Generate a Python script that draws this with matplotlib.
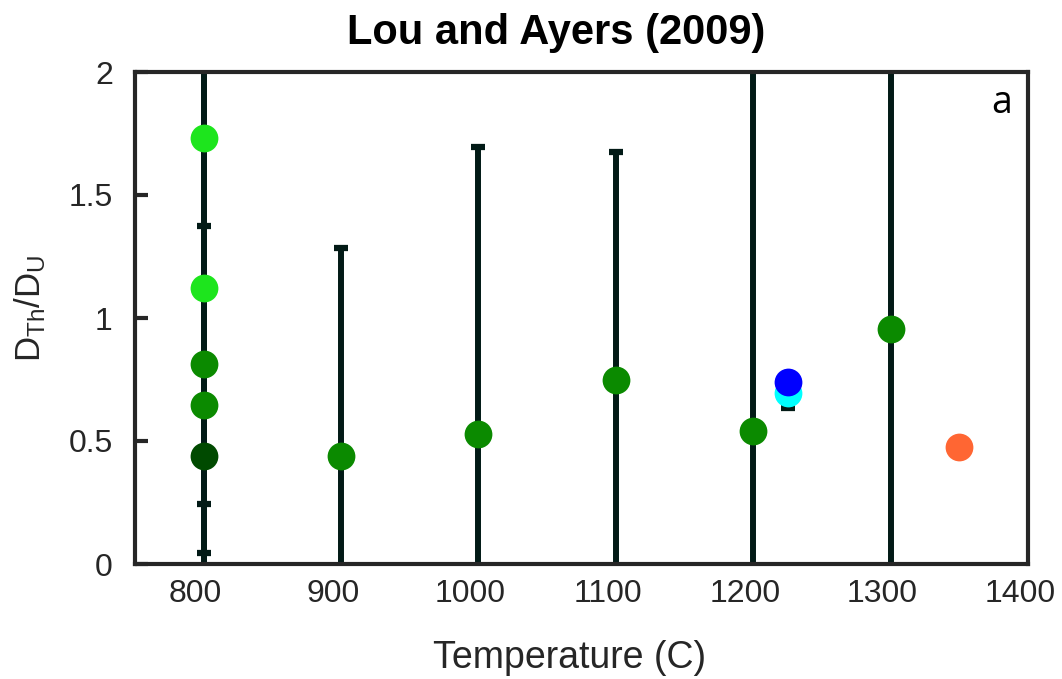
import matplotlib
matplotlib.use("Agg")
import matplotlib.pyplot as plt
import matplotlib.transforms as mtransforms
import numpy as np

plt.rcParams['font.family'] = ['Liberation Sans', 'DejaVu Sans']
plt.rcParams['mathtext.fontset'] = 'custom'
plt.rcParams['mathtext.rm'] = 'Liberation Sans'
plt.rcParams['mathtext.it'] = 'Liberation Sans'

# Data: temperature (C), D_Th/D_U, error-bar lower/upper bounds (values beyond axes are clipped)
temps  = [800, 800, 800, 800, 800, 900, 1000, 1100, 1200, 1300, 1225, 1225, 1350]
ratios = [1.73, 1.12, 0.815, 0.645, 0.44, 0.44, 0.528, 0.748, 0.54, 0.955, 0.695, 0.74, 0.476]
lower  = [1.374, 0.244, 0.045, -0.5, -0.6, -0.4, -0.6, -0.2, -0.6, -0.3, 0.634, 0.74, 0.476]
upper  = [2.4, 2.5, 2.6, 2.3, 2.5, 1.285, 1.695, 1.675, 2.6, 2.3, 0.756, 0.74, 0.476]
colors = ['#1de51d', '#1de51d', '#0b8a00', '#0b8a00', '#004a00', '#0b8a00', '#0b8a00',
          '#0b8a00', '#0b8a00', '#0b8a00', '#00ffff', '#0000ff', '#ff6633']
has_err = [True, True, True, True, True, True, True, True, True, True, True, False, False]

fig = plt.figure(figsize=(10.62, 6.79), dpi=100)
ax = fig.add_axes([135/1062, 1-564/679, (1028-135)/1062, (564-72)/679])

bar_color = '#021a16'
for t, r, lo, hi, e in zip(temps, ratios, lower, upper, has_err):
    if e:
        ax.errorbar([t], [r], yerr=[[r-lo], [hi-r]], fmt='none', ecolor=bar_color,
                    elinewidth=4.3, capsize=5, capthick=4.5, zorder=2)
for t, r, c in zip(temps, ratios, colors):
    ax.plot([t], [r], 'o', color=c, markersize=20, markeredgewidth=0, zorder=3)

ax.set_xlim(750, 1400)
ax.set_ylim(0, 2)
ax.set_xticks([800, 900, 1000, 1100, 1200, 1300, 1400])
ax.set_yticks([0, 0.5, 1, 1.5, 2])
ax.set_yticklabels(['0', '0.5', '1', '1.5', '2'])
ax.tick_params(axis='x', length=0, pad=11, labelsize=23, labelcolor='#262626')
ax.tick_params(axis='y', direction='in', length=9, width=3, color='#262626',
               pad=16, labelsize=23, labelcolor='#262626')
for s in ax.spines.values():
    s.set_linewidth(3)
    s.set_color('#262626')

shift = mtransforms.ScaledTranslation(-8/100, 0, fig.dpi_scale_trans)
for lab in ax.get_xticklabels():
    lab.set_transform(lab.get_transform() + shift)

ax.set_xlabel('Temperature (C)', fontsize=27, color='#262626')
ax.xaxis.set_label_coords((570-135)/893, -0.155)
ax.set_ylabel(r'$\mathregular{D_{Th}/D_U}$', fontsize=25, color='#262626')
ax.yaxis.set_label_coords(-0.097, 0.52)
ax.set_title('Lou and Ayers (2009)', fontsize=30, fontweight='bold', pad=20,
             x=(556-135)/893)
ax.text(0.982, 0.975, 'a', transform=ax.transAxes, ha='right', va='top',
        fontsize=27, family=['Open Sans', 'DejaVu Sans'])

fig.savefig('out.png', dpi=100)
